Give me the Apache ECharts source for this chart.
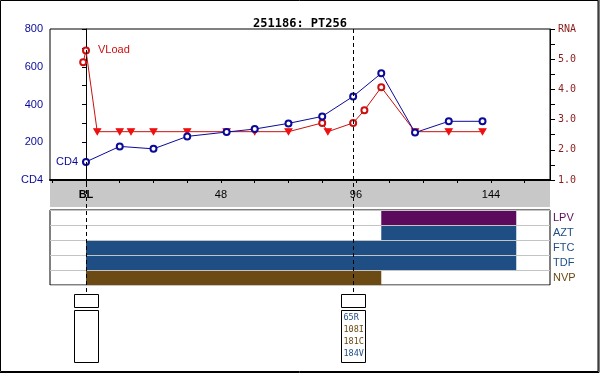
<!DOCTYPE html>
<html><head><meta charset="utf-8">
<script src="https://cdn.jsdelivr.net/npm/echarts@6/dist/echarts.min.js"></script>
<style>html,body{margin:0;padding:0;background:#fff}#c{width:600px;height:373px}</style>
</head><body><div id="c"></div>
<script>
const titleText = '251186: PT256';
// CD4 counts: [week, cells/uL]
const cd4Weeks = [0, 12, 24, 36, 50, 60, 72, 84, 95, 105, 117, 129, 141];
const cd4Values = [96, 178, 165, 231, 254, 270, 300, 337, 443, 565, 251, 311, 311];
// Viral load (log10 RNA); below = below detection limit
const rnaWeeks = [-1, 0, 4, 12, 16, 24, 36, 50, 60, 72, 84, 86, 95, 99, 105, 117, 129, 141];
const rnaValues = [4.9, 5.29, 2.6, 2.6, 2.6, 2.6, 2.6, 2.6, 2.6, 2.6, 2.89, 2.6, 2.89, 3.31, 4.07, 2.6, 2.6, 2.6];
const rnaBelow = [0, 0, 1, 1, 1, 1, 1, 1, 1, 1, 0, 1, 0, 0, 0, 1, 1, 1];
// x axis
const xTickValues = [-12, 0, 12, 24, 36, 48, 60, 72, 84, 96, 108, 120, 132, 144, 156];
const xLabelValues = [0, 48, 96, 144];
// treatments (bottom to top)
const drugs = ['NVP', 'TDF', 'FTC', 'AZT', 'LPV'];
const drugStart = [0, 0, 0, 105, 105];
const drugEnd = [105, 153, 153, 153, 153];
// resistance tests
const resWeeks = [0, 95];
const resMutations = [[], ['65R', '108I', '181C', '184V']];
const resClass = [[], ['NRTI', 'NNRTI', 'NNRTI', 'NRTI']];

const BLUE = '#1f4e85', BROWN = '#6b4a14', PURPLE = '#5c0a5c';
const drugColor = {NVP: BROWN, TDF: BLUE, FTC: BLUE, AZT: BLUE, LPV: PURPLE};
const classColor = {NRTI: BLUE, NNRTI: BROWN};
const CD4C = '#0a0a9a', RNAC = '#cc1010';

const chart = echarts.init(document.getElementById('c'), null, {renderer: 'canvas'});

const cd4Data = cd4Weeks.map((w, i) => {
  const d = {value: [w, cd4Values[i]]};
  if (i === 0) d.label = {show: true, position: 'left', distance: 4, formatter: 'CD4', color: CD4C, fontSize: 11, fontFamily: 'Liberation Sans'};
  return d;
});
const rnaData = rnaWeeks.map((w, i) => {
  const d = {value: [w, rnaValues[i]]};
  if (rnaBelow[i]) { d.symbol = 'path://M0,0 L10,0 L5,9 Z'; d.symbolSize = [7, 6]; d.itemStyle = {color: '#ee1111', borderColor: '#ee1111'}; }
  if (i === 1) d.label = {show: true, position: 'right', distance: 8, formatter: 'VLoad', color: RNAC, fontSize: 11, fontFamily: 'Liberation Sans'};
  return d;
});
const drugData = drugs.map((d, i) => [drugStart[i], drugEnd[i], i]);
const resData = resWeeks.map((w, i) => [w, i]);

const rich = {b: {fontWeight: 'bold', color: '#000', fontSize: 11, fontFamily: 'Liberation Sans'}, n: {color: '#000', fontSize: 11, fontFamily: 'Liberation Sans'}};
const drugRich = {};
drugs.forEach(d => drugRich[d] = {color: drugColor[d], fontSize: 11, fontFamily: 'Liberation Sans'});

chart.setOption({
  animation: false,
  backgroundColor: '#fff',
  title: {text: titleText, left: 'center', top: 13, textStyle: {fontFamily: 'DejaVu Sans Mono', fontWeight: 'bold', fontSize: 12, color: '#000'}},
  grid: [
    {left: 50, right: 50, top: 29, height: 151, show: true, borderColor: '#000', borderWidth: 1},
    {left: 50, right: 50, top: 210, height: 75, show: true, borderColor: '#000', borderWidth: 1}
  ],
  xAxis: [
    {type: 'value', gridIndex: 0, min: -12.8, max: 165, splitLine: {show: false},
     axisLine: {onZero: false, lineStyle: {color: '#000', width: 2}},
     axisTick: {customValues: xTickValues, length: 3, lineStyle: {color: '#000'}},
     axisLabel: {customValues: xLabelValues, margin: 9, formatter: v => v === 0 ? '{b|BL}' : '{n|' + v + '}', rich: rich}},
    {type: 'value', gridIndex: 1, min: -12.8, max: 165, show: true, splitLine: {show: false},
     axisLine: {onZero: false, lineStyle: {color: '#000', width: 2}}, axisTick: {show: false}, axisLabel: {show: false}}
  ],
  yAxis: [
    {type: 'value', gridIndex: 0, min: 0, max: 800, interval: 100, position: 'left', splitLine: {show: false},
     axisLine: {show: true, lineStyle: {color: '#000'}}, axisTick: {show: true, length: 4, lineStyle: {color: '#000'}},
     axisLabel: {color: CD4C, fontSize: 11, fontFamily: 'Liberation Sans', margin: 7, formatter: v => v === 0 ? 'CD4' : (v % 200 === 0 ? String(v) : '')}},
    {type: 'value', gridIndex: 0, min: 1, max: 6, interval: 0.5, position: 'right', splitLine: {show: false},
     axisLine: {show: true, lineStyle: {color: '#000'}}, axisTick: {show: true, length: 5, lineStyle: {color: '#000'}},
     axisLabel: {color: '#8b1a1a', fontSize: 10, fontFamily: 'DejaVu Sans Mono', margin: 8, formatter: v => v === 6 ? 'RNA' : (Math.abs(v - Math.round(v)) < 1e-9 ? v.toFixed(1) : '')}},
    {type: 'category', gridIndex: 1, data: drugs, position: 'right', boundaryGap: true,
     axisLine: {show: false}, axisTick: {show: false},
     splitLine: {show: true, interval: 0, lineStyle: {color: '#c4c4c4', width: 1}},
     axisLabel: {interval: 0, margin: 3, formatter: v => '{' + v + '|' + v + '}', rich: drugRich}}
  ],
  series: [
    {type: 'custom', name: 'drugs', xAxisIndex: 1, yAxisIndex: 2, data: drugData, z: 3,
     renderItem: (params, api) => {
       const s = api.coord([api.value(0), api.value(2)]);
       const e = api.coord([api.value(1), api.value(2)]);
       const h = api.size([0, 1])[1];
       return {type: 'rect', shape: {x: s[0], y: s[1] - h / 2 + 1, width: e[0] - s[0], height: h - 1},
               style: {fill: drugColor[drugs[api.value(2)]]}};
     }},
    {type: 'line', name: 'VLoad', xAxisIndex: 0, yAxisIndex: 1, data: rnaData, z: 4,
     symbol: 'emptyCircle', symbolSize: 6, showAllSymbol: true,
     lineStyle: {color: RNAC, width: 1}, itemStyle: {color: RNAC, borderWidth: 1}},
    {type: 'line', name: 'CD4', xAxisIndex: 0, yAxisIndex: 0, data: cd4Data, z: 5,
     symbol: 'emptyCircle', symbolSize: 6, showAllSymbol: true,
     lineStyle: {color: CD4C, width: 1}, itemStyle: {color: CD4C, borderWidth: 1}},
    {type: 'custom', name: 'res', xAxisIndex: 0, yAxisIndex: 0, data: resData, clip: false, z: 6,
     renderItem: (params, api) => {
       const x = Math.round(api.coord([api.value(0), 0])[0]) + 0.5;
       const idx = api.value(1);
       const ch = [
         {type: 'line', shape: {x1: x, y1: 29, x2: x, y2: 294}, style: {stroke: '#000', lineWidth: 1, lineDash: [4, 3]}},
         {type: 'rect', shape: {x: x - 12, y: 294.5, width: 24, height: 13}, style: {fill: '#fff', stroke: '#000', lineWidth: 1}},
         {type: 'rect', shape: {x: x - 12, y: 310.5, width: 24, height: 52}, style: {fill: '#fff', stroke: '#000', lineWidth: 1}}
       ];
       resMutations[idx].forEach((m, k) => {
         ch.push({type: 'text', style: {text: m, x: x - 10, y: 318 + k * 12, verticalAlign: 'middle', align: 'left',
           fill: classColor[resClass[idx][k]], font: '8.5px "DejaVu Sans Mono"'}});
       });
       return {type: 'group', children: ch};
     }}
  ],
  graphic: [
    {type: 'rect', z: -10, silent: true, shape: {x: 50, y: 181, width: 500, height: 26}, style: {fill: '#c8c8c8'}},
    {type: 'rect', z: 100, silent: true, shape: {x: 0.5, y: 0.5, width: 597.5, height: 371}, style: {fill: null, stroke: '#000', lineWidth: 1}},
    {type: 'polyline', z: 100, silent: true, shape: {points: [[599, 0], [599, 372.5], [0, 372.5]]}, style: {fill: null, stroke: '#000', lineWidth: 1}}
  ]
});
</script></body></html>
